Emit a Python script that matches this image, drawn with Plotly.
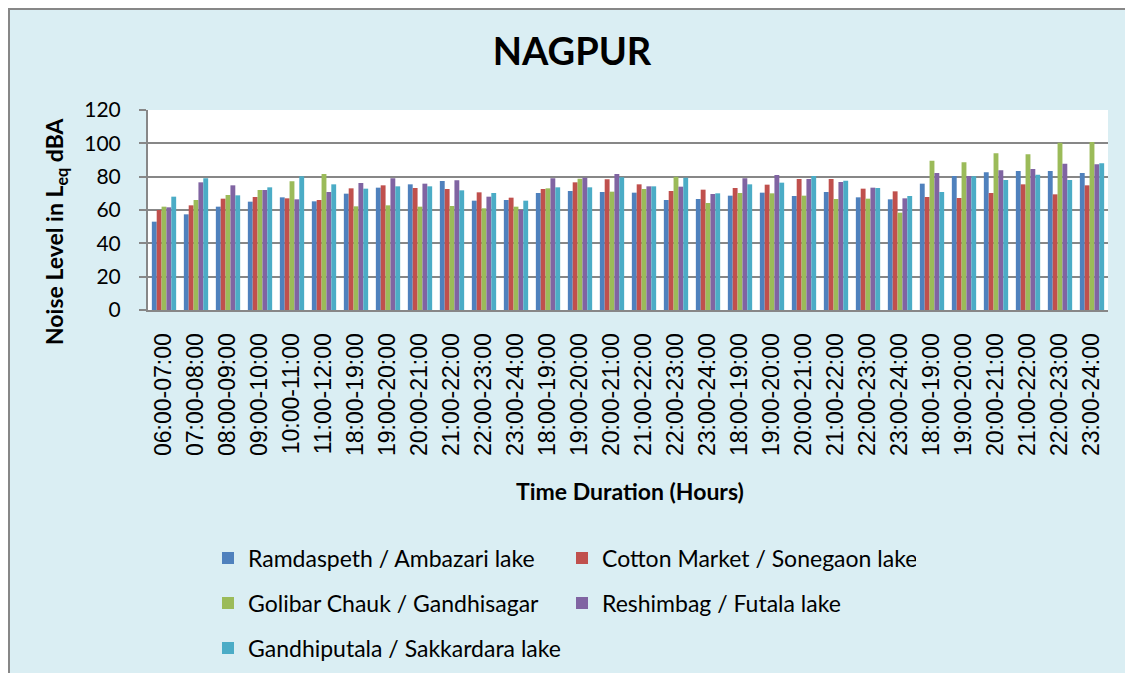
import plotly.graph_objects as go

# Time slots on the x axis (repeating labels, so positions are indices)
time_labels = [
    "06:00-07:00", "07:00-08:00", "08:00-09:00", "09:00-10:00", "10:00-11:00", "11:00-12:00",
    "18:00-19:00", "19:00-20:00", "20:00-21:00", "21:00-22:00", "22:00-23:00", "23:00-24:00",
    "18:00-19:00", "19:00-20:00", "20:00-21:00", "21:00-22:00", "22:00-23:00", "23:00-24:00",
    "18:00-19:00", "19:00-20:00", "20:00-21:00", "21:00-22:00", "22:00-23:00", "23:00-24:00",
    "18:00-19:00", "19:00-20:00", "20:00-21:00", "21:00-22:00", "22:00-23:00", "23:00-24:00",
]
x_pos = list(range(len(time_labels)))

ramdaspeth = [53.0, 57.4, 62.0, 65.0, 67.6, 65.2, 69.8, 73.4, 75.4, 77.4, 65.6, 66.0, 70.2, 71.4, 70.8,
              70.4, 66.0, 66.6, 68.6, 70.4, 68.4, 70.8, 67.6, 66.4, 75.8, 80.4, 82.6, 83.4, 83.4, 82.2]
cotton_market = [60.0, 62.8, 66.8, 67.8, 67.0, 66.0, 73.0, 74.8, 73.2, 72.6, 70.6, 67.4, 72.6, 76.6, 78.4,
                 75.4, 71.4, 72.2, 73.2, 75.2, 78.6, 78.6, 72.8, 71.2, 67.8, 67.2, 70.2, 75.4, 69.4, 74.8]
golibar_chauk = [62.0, 66.0, 69.0, 72.0, 77.2, 81.6, 62.2, 62.8, 62.0, 62.4, 61.0, 62.0, 73.0, 78.8, 71.0,
                 72.6, 80.0, 64.2, 70.2, 70.0, 68.6, 66.6, 66.8, 58.4, 89.6, 88.6, 94.0, 93.4, 100.4, 100.8]
reshimbag = [61.6, 76.6, 74.8, 72.0, 66.4, 70.8, 76.2, 79.0, 75.8, 77.8, 68.0, 60.0, 79.0, 79.4, 81.6,
             74.2, 74.0, 69.6, 79.0, 81.0, 78.6, 76.8, 73.4, 67.0, 82.2, 80.4, 83.8, 84.6, 87.8, 87.4]
gandhiputala = [68.0, 79.0, 68.8, 73.6, 80.2, 75.4, 72.8, 74.2, 74.2, 71.8, 70.2, 65.6, 73.6, 73.6, 79.6,
                74.2, 79.4, 70.0, 75.4, 76.4, 80.4, 77.6, 73.2, 68.4, 70.8, 80.2, 78.0, 81.2, 78.0, 88.0]

series = [
    ("Ramdaspeth / Ambazari lake", ramdaspeth, "#4F81BD", "legend"),
    ("Cotton Market / Sonegaon lake", cotton_market, "#C0504D", "legend"),
    ("Golibar Chauk / Gandhisagar", golibar_chauk, "#9BBB59", "legend2"),
    ("Reshimbag / Futala lake", reshimbag, "#8064A2", "legend2"),
    ("Gandhiputala / Sakkardara lake", gandhiputala, "#4BACC6", "legend3"),
]

# the page body has an 8px margin, so the figure is made that much smaller
PAGE = 8
W, H = 1133 - PAGE, 681 - 2 * PAGE
L, R, T, B = 148 - PAGE, 1108 - PAGE, 110 - PAGE, 310 - PAGE  # plot area in figure pixels


def px_x(sx):
    # screen x -> paper x
    return (sx - PAGE - L) / (R - L)


def px_y(sy):
    # screen y -> paper y
    return (B - (sy - PAGE)) / (B - T)


fig = go.Figure()
for name, vals, color, leg in series:
    fig.add_trace(go.Bar(x=x_pos, y=vals, name=name, marker_color=color,
                         marker_line_width=0, legend=leg))

grey = "#878787"
font_main = "Lato, Calibri, sans-serif"

legend_style = dict(orientation="h", xref="container", yref="container",
                    xanchor="left", yanchor="middle", entrywidth=309, entrywidthmode="pixels",
                    bgcolor="rgba(0,0,0,0)", font=dict(family=font_main, size=23, color="#000000"))

fig.update_layout(
    width=W, height=H,
    margin=dict(l=L, r=W - R, t=T, b=H - B),
    paper_bgcolor="#DAEEF3",
    plot_bgcolor="#FFFFFF",
    barmode="group", bargap=0.24, bargroupgap=0,
    title=dict(text="<b>NAGPUR</b>", xref="container", x=(572 - PAGE) / W, xanchor="center",
               yref="container", y=1 - (52 - PAGE) / H, yanchor="middle",
               font=dict(family=font_main, size=38, color="#000000")),
    legend=dict(legend_style, x=(208 - PAGE) / W, y=1 - (558 - PAGE) / H),
    legend2=dict(legend_style, x=(208 - PAGE) / W, y=1 - (603 - PAGE) / H),
    legend3=dict(legend_style, x=(208 - PAGE) / W, y=1 - (648 - PAGE) / H),
    xaxis=dict(range=[-0.5, 29.5], tickmode="array", tickvals=x_pos, ticktext=time_labels,
               tickangle=-90, showgrid=False, showline=True, linecolor=grey, linewidth=2,
               ticks="", ticklabelstandoff=12,
               tickfont=dict(family="Liberation Sans, Arial, sans-serif", size=23, color="#000000")),
    yaxis=dict(range=[0, 120], dtick=20, showgrid=True, gridcolor=grey, gridwidth=2,
               showline=True, linecolor=grey, linewidth=2, zeroline=False,
               ticks="outside", ticklen=7, tickcolor=grey, tickwidth=2, ticklabelstandoff=14,
               tickfont=dict(family=font_main, size=21, color="#000000")),
    annotations=[
        dict(text="<b>Noise Level in L<sub>eq</sub> dBA</b>", xref="paper", yref="paper",
             x=px_x(55), y=px_y(231), xanchor="center", yanchor="middle", textangle=-90,
             showarrow=False, font=dict(family=font_main, size=23, color="#000000")),
        dict(text="<b>Time Duration (Hours)</b>", xref="paper", yref="paper",
             x=px_x(630), y=px_y(491), xanchor="center", yanchor="middle",
             showarrow=False, font=dict(family=font_main, size=23, color="#000000")),
    ],
    shapes=[
        # chart frame along the top and left edges
        dict(type="line", xref="paper", yref="paper", x0=px_x(PAGE + 1), x1=px_x(PAGE + 1),
             y0=px_y(PAGE), y1=px_y(681), line=dict(color=grey, width=2)),
        dict(type="line", xref="paper", yref="paper", x0=px_x(PAGE), x1=px_x(1133),
             y0=px_y(PAGE + 1), y1=px_y(PAGE + 1), line=dict(color=grey, width=2)),
    ],
)

fig.write_html("out.html")
